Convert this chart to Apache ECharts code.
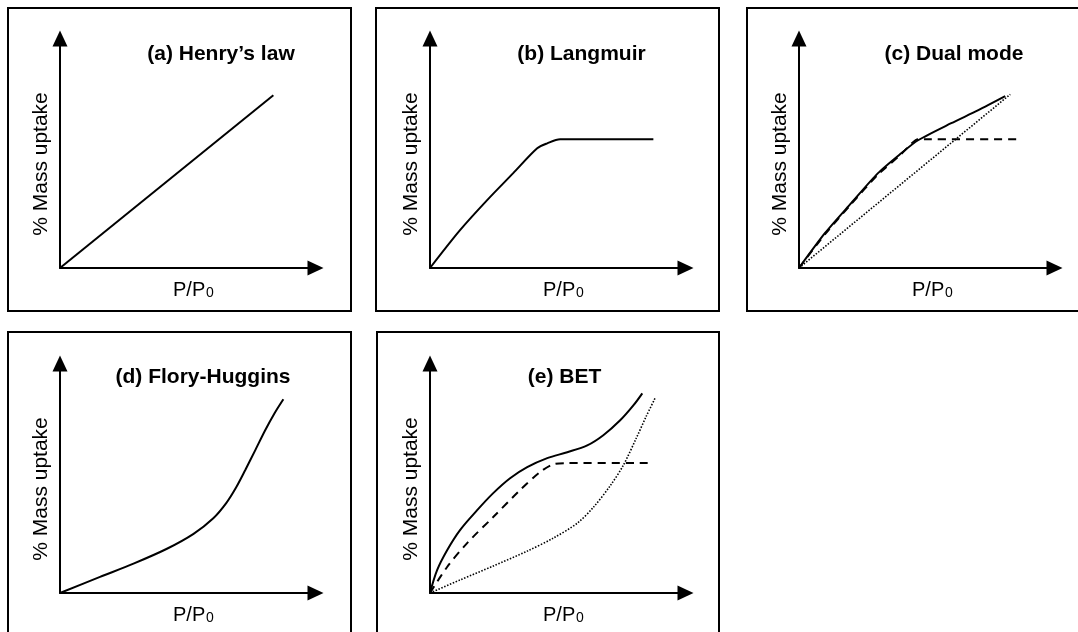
<!DOCTYPE html>
<html>
<head>
<meta charset="utf-8">
<script src="https://cdn.jsdelivr.net/npm/echarts@6/dist/echarts.min.js"></script>
<style>
html,body{margin:0;padding:0;background:#fff;}
#chart{width:1078px;height:632px;}
</style>
</head>
<body>
<div id="chart"></div>
<script>
// ---- data (x, y in % of axis length) ----
const panelTitles = ['(a) Henry\u2019s law', '(b) Langmuir', '(c) Dual mode', '(d) Flory-Huggins', '(e) BET'];
const yAxisLabel = '% Mass uptake';
const xAxisLabel = 'P/P';
const xAxisSub = '0';

const henryX = [0, 81.0];
const henryY = [0, 73.0];

const langmuirX = [0, 11.4, 21.7, 31.6, 40.7, 44.5, 49.4, 54.4, 84.8];
const langmuirY = [0, 16.0, 28.7, 40.1, 50.6, 52.7, 54.4, 54.4, 54.4];

const dualSolidX = [0, 9.9, 19.8, 30.0, 38.8, 45.2, 57.8, 68.1, 78.3];
const dualSolidY = [0, 14.8, 27.4, 40.1, 48.5, 54.0, 61.2, 66.7, 72.6];
const dualDashX = [0, 9.9, 19.8, 30.0, 38.5, 42.7, 45.2, 83.3];
const dualDashY = [0, 14.3, 27.0, 39.5, 47.8, 52.6, 54.4, 54.4];
const dualDotX = [0, 80.2];
const dualDotY = [0, 73.4];

const floryX = [0, 15.2, 27.9, 40.6, 50.7, 58.2, 63.1, 66.9, 70.3, 74.1, 77.9, 81.4, 84.8];
const floryY = [0, 6.8, 12.4, 18.7, 25.0, 31.6, 38.0, 44.7, 51.9, 60.3, 68.8, 75.9, 81.9];

const betSolidX = [0, 2.7, 6.5, 11.4, 17.9, 24.0, 30.4, 36.9, 44.5, 52.1, 59.7, 65.8, 72.2, 77.2, 80.6];
const betSolidY = [0, 9.7, 18.1, 26.6, 35.0, 42.2, 48.5, 53.2, 57.0, 59.5, 62.4, 66.7, 73.0, 79.3, 84.4];
const betDashX = [0, 6.5, 14.1, 24.0, 34.2, 41.8, 46.8, 52.1, 82.9];
const betDashY = [0, 11.0, 21.1, 32.1, 43.5, 51.1, 54.4, 54.9, 54.9];
const betDotX = [0, 11.4, 24.0, 36.9, 46.8, 55.9, 62.0, 68.4, 73.4, 78.3, 82.1, 85.6];
const betDotY = [0, 5.5, 11.4, 17.7, 23.2, 29.5, 36.2, 45.3, 54.0, 65.4, 74.7, 82.7];

// ---- layout ----
const FONT = '"Liberation Sans", Arial, Helvetica, sans-serif';
const origins = [[60, 268], [430, 268], [799, 268], [60, 593], [430, 593]];
const boxes = [[8, 8, 343, 303], [376, 8, 343, 303], [747, 8, 340, 303], [8, 332, 343, 320], [377, 332, 342, 320]];
const AX_W = 255.5, AX_H = 229.5, AX_MAX = 97;

function pairs(xs, ys) { return xs.map((x, i) => [x, ys[i]]); }

const grids = [], xAxes = [], yAxes = [], graphics = [];
const axisBase = (extra) => Object.assign({
  type: 'value', min: 0, max: AX_MAX,
  axisLine: { show: true, lineStyle: { color: '#000', width: 2 }, symbol: ['none', 'triangle'], symbolSize: [15, 16] },
  axisTick: { show: false }, axisLabel: { show: false }, splitLine: { show: false }
}, extra);

origins.forEach((o, i) => {
  grids.push({ left: o[0], top: o[1] - AX_H, width: AX_W, height: AX_H });
  xAxes.push(axisBase({ gridIndex: i }));
  yAxes.push(axisBase({ gridIndex: i }));
  const b = boxes[i];
  graphics.push({ type: 'rect', shape: { x: b[0], y: b[1], width: b[2], height: b[3] }, style: { fill: 'none', stroke: '#000', lineWidth: 2 }, z: 1 });
  graphics.push({ type: 'text', x: o[0] - 19, y: o[1] - 104, rotation: Math.PI / 2,
    style: { text: yAxisLabel, x: 0, y: 0, font: '21px ' + FONT, fill: '#000', align: 'center', verticalAlign: 'middle', textAlign: 'center', textVerticalAlign: 'middle' }, z: 10 });
  graphics.push({ type: 'text', x: o[0] + 113, y: o[1] + 22,
    style: { text: xAxisLabel, x: 0, y: 0, font: '20px ' + FONT, fill: '#000', align: 'left', verticalAlign: 'middle', textAlign: 'left', textVerticalAlign: 'middle' }, z: 10 });
  graphics.push({ type: 'text', x: o[0] + 146, y: o[1] + 32.5,
    style: { text: xAxisSub, x: 0, y: 0, font: '14px ' + FONT, fill: '#000', align: 'left', verticalAlign: 'bottom', textAlign: 'left', textVerticalAlign: 'bottom' }, z: 10 });
});

const titlePos = [[221, 54], [581.5, 54], [954, 54], [203, 377], [564.5, 377]];
panelTitles.forEach((t, i) => {
  graphics.push({ type: 'text', x: titlePos[i][0], y: titlePos[i][1],
    style: { text: t, x: 0, y: 0, font: 'bold 21px ' + FONT, fill: '#000', align: 'center', verticalAlign: 'middle', textAlign: 'center', textVerticalAlign: 'middle' }, z: 10 });
});

const SOLID = { color: '#000', width: 2, type: 'solid' };
const DASH = { color: '#000', width: 2, type: [8, 6] };
const DOT = { color: '#000', width: 1.6, type: [1.5, 1.6] };

function line(idx, xs, ys, style, smooth) {
  return { type: 'line', xAxisIndex: idx, yAxisIndex: idx, data: pairs(xs, ys), showSymbol: false, symbol: 'none',
    smooth: smooth, lineStyle: style, silent: true, animation: false, z: 5 };
}

const series = [
  line(0, henryX, henryY, SOLID, false),
  line(1, langmuirX, langmuirY, SOLID, 0.3),
  line(2, dualSolidX, dualSolidY, SOLID, 0.25),
  line(2, dualDashX, dualDashY, DASH, 0.25),
  line(2, dualDotX, dualDotY, DOT, false),
  line(3, floryX, floryY, SOLID, 0.3),
  line(4, betSolidX, betSolidY, SOLID, 0.35),
  line(4, betDashX, betDashY, DASH, 0.3),
  line(4, betDotX, betDotY, DOT, 0.3)
];

const chart = echarts.init(document.getElementById('chart'), null, { renderer: 'canvas' });
chart.setOption({
  animation: false,
  backgroundColor: '#fff',
  grid: grids,
  xAxis: xAxes,
  yAxis: yAxes,
  series: series,
  graphic: graphics
});
</script>
</body>
</html>
